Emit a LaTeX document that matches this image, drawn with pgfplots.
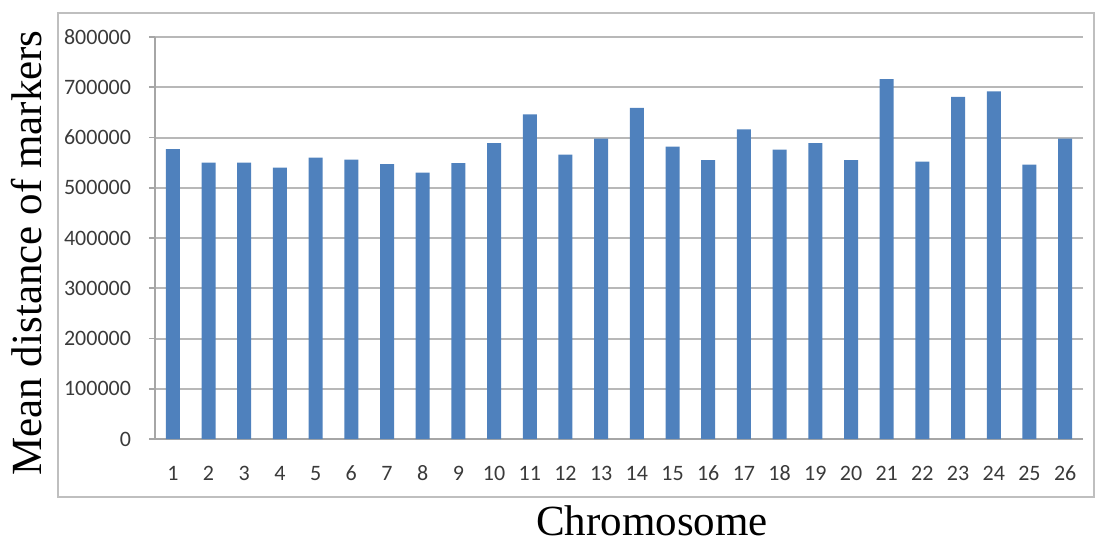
\documentclass[border=0pt]{standalone}
\usepackage{pgfplots}
\pgfplotsset{compat=1.18}
\usepackage{fontspec}
\setmainfont{Liberation Serif}
\newfontfamily\tickfont{Carlito}
\definecolor{barblue}{HTML}{4F81BD}
\definecolor{gridgray}{HTML}{B8B8B8}
\definecolor{axisgray}{HTML}{A6A6A6}
\definecolor{boxgray}{HTML}{BFBFBF}
\definecolor{ticktext}{HTML}{3A3A3A}
\begin{document}
\begin{tikzpicture}
\path[use as bounding box] (-77.5bp,-51.5bp) rectangle (471bp,219.5bp);
\draw[boxgray, line width=1bp] (-48.5bp,-29bp) rectangle (469.5bp,213bp);
\begin{axis}[
  at={(0,0)}, anchor=south west,
  scale only axis, width=464bp, height=201bp,
  xmin=0.5, xmax=26.5, ymin=0, ymax=800000,
  axis x line*=bottom, axis y line*=left,
  axis line style={-, draw=axisgray, line width=0.8bp},
  ytick={0,100000,...,800000},
  xtick={1,...,26},
  xtick style={draw=none},
  ytick style={draw=axisgray, line width=0.8bp},
  tick align=outside,
  major tick length=3bp,
  extra x ticks={0.5,1.5,...,26.5},
  extra x tick labels={},
  extra x tick style={tick style={draw=axisgray, line width=0.8bp}},
  ymajorgrids,
  grid style={draw=gridgray, line width=1bp},
  scaled y ticks=false,
  /pgf/number format/.cd, fixed, 1000 sep={}, assume math mode=true,
  /pgfplots/.cd,
  tick label style={font=\tickfont\fontsize{11bp}{13bp}\selectfont, text=ticktext},
  yticklabel style={xshift=-5.5bp},
  xticklabel style={yshift=-6.5bp, text height=7.5bp, text depth=0pt},
  ybar, bar width=7bp,
]
\addplot[fill=barblue, draw=none] coordinates {
(1,577000) (2,550000) (3,550000) (4,540000) (5,560000) (6,556000)
(7,547000) (8,530000) (9,549000) (10,589000) (11,646000) (12,566000)
(13,598000) (14,659000) (15,582000) (16,555000) (17,616000) (18,576000)
(19,589000) (20,555000) (21,716000) (22,552000) (23,681000) (24,692000)
(25,546000) (26,598000)
};
\end{axis}
\node[anchor=base, font=\fontsize{21.5bp}{26bp}\selectfont] at (248.5bp,-48bp) {Chromosome};
\node[anchor=base, rotate=90, font=\fontsize{21.5bp}{26bp}\selectfont] at (-56.5bp,93bp) {Mean distance of markers};
\end{tikzpicture}
\end{document}
